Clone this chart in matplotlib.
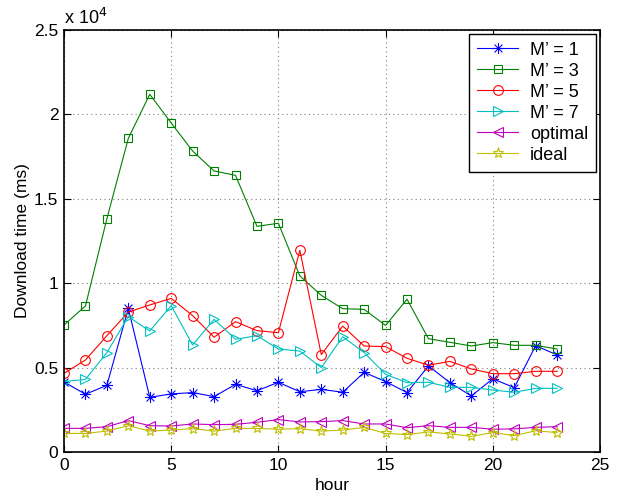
import matplotlib
matplotlib.use("Agg")
import matplotlib.pyplot as plt
import numpy as np
from matplotlib.path import Path

plt.rcParams['font.family'] = ['Liberation Sans', 'DejaVu Sans']

hours = list(range(24))
m1 = [4150, 3420, 3950, 8510, 3240, 3440, 3520, 3280, 4010, 3630, 4130, 3570,
      3710, 3540, 4720, 4170, 3520, 5100, 4110, 3320, 4340, 3810, 6300, 5750]
m3 = [7520, 8650, 13820, 18580, 21190, 19490, 17830, 16650, 16390, 13370, 13550, 10430,
      9280, 8490, 8450, 7500, 9050, 6710, 6500, 6280, 6480, 6320, 6320, 6100]
m5 = [4660, 5450, 6890, 8290, 8710, 9100, 8080, 6800, 7720, 7190, 7070, 11950,
      5770, 7460, 6280, 6240, 5550, 5140, 5370, 4920, 4640, 4640, 4780, 4780]
m7 = [4170, 4300, 5890, 8020, 7170, 8670, 6340, 7860, 6680, 6890, 6100, 5980,
      5000, 6830, 5890, 4600, 4110, 4130, 3830, 3830, 3670, 3540, 3770, 3770]
optimal = [1400, 1400, 1500, 1860, 1560, 1540, 1660, 1620, 1640, 1760, 1920, 1780,
           1800, 1860, 1660, 1660, 1440, 1560, 1460, 1460, 1350, 1370, 1460, 1500]
ideal = [1100, 1100, 1240, 1560, 1240, 1300, 1380, 1240, 1400, 1400, 1350, 1380,
         1240, 1300, 1460, 1100, 1030, 1190, 1070, 930, 1150, 970, 1260, 1150]

# MATLAB-style asterisk marker (+ and x superimposed)
verts, codes = [], []
for a in np.deg2rad([0, 45, 90, 135]):
    c, s = np.cos(a), np.sin(a)
    verts += [(-c, -s), (c, s)]
    codes += [Path.MOVETO, Path.LINETO]
asterisk = Path(verts, codes)

series = [
    (m1, "M\u2019 = 1", "#0000ff", asterisk, 8),
    (m3, "M\u2019 = 3", "#008000", "s", 5.5),
    (m5, "M\u2019 = 5", "#ff0000", "o", 7),
    (m7, "M\u2019 = 7", "#00bfbf", ">", 7),
    (optimal, "optimal", "#bf00bf", "<", 7),
    (ideal, "ideal", "#bfbf00", "*", 8),
]

fig = plt.figure(figsize=(6.18, 4.97), dpi=100)
ax = fig.add_axes([64/618, 45/497, 536/618, 422/497])

for vals, lab, col, mk, ms in series:
    ax.plot(hours, [v / 1e4 for v in vals], color=col, marker=mk, lw=0.8,
            markersize=ms, markeredgewidth=0.8, markerfacecolor="none",
            markeredgecolor=col, label=lab)

ax.set_xlim(0, 25)
ax.set_ylim(0, 2.5)
ax.set_xticks([0, 5, 10, 15, 20, 25])
ax.set_yticks([0, 0.5, 1, 1.5, 2, 2.5])
ax.set_yticklabels(["0", "0.5", "1", "1.5", "2", "2.5"])
ax.grid(True, linestyle=(0, (1, 3)), color="#808080", linewidth=0.8)
ax.tick_params(direction="in", top=True, right=True, labelsize=12.5, length=5,
               width=0.8, pad=4)
for s in ax.spines.values():
    s.set_linewidth(1.2)
ax.set_xlabel("hour", fontsize=12.5, labelpad=4)
ax.set_ylabel("Download time (ms)", fontsize=12.5, labelpad=3)
ax.text(0.0, 1.005, "x 10$^{4}$", transform=ax.transAxes, fontsize=13,
        ha="left", va="bottom")

leg = ax.legend(loc="upper right", fontsize=13, frameon=True, fancybox=False,
                edgecolor="black", framealpha=1, handlelength=2.3,
                borderaxespad=0.2, labelspacing=0.22, handletextpad=0.65,
                borderpad=0.45)
leg.get_frame().set_linewidth(1.0)

fig.savefig("out.png", dpi=100)
